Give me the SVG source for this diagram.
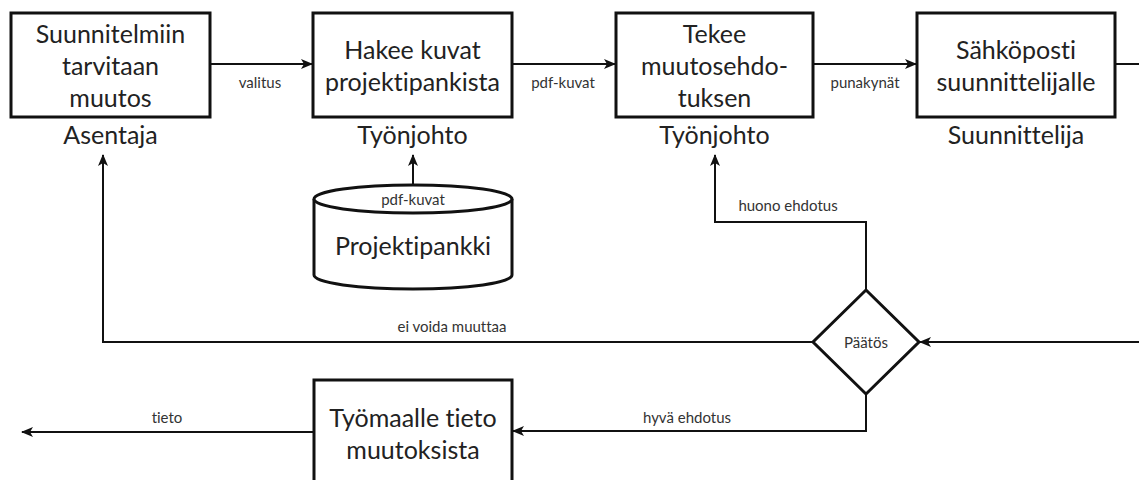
<svg xmlns="http://www.w3.org/2000/svg" width="1139" height="480" viewBox="0 0 1139 480">
  <defs>
    <style>
      .box { fill: #fff; stroke: #111; stroke-width: 3; }
      .shape { fill: #fff; stroke: #111; stroke-width: 3; }
      .line { fill: none; stroke: #111; stroke-width: 2; }
      text { font-family: Lato, "Liberation Sans", sans-serif; font-variant-ligatures: none; text-anchor: middle; dominant-baseline: central; }
      .big { font-size: 25px; fill: #222; }
      .small { font-size: 15px; fill: #333; }
    </style>
    <marker id="arrow" viewBox="0 0 12 10" refX="11" refY="5" markerWidth="12" markerHeight="10" markerUnits="userSpaceOnUse" orient="auto">
      <path d="M0,0 L12,5 L0,10 L3,5 z" fill="#111"/>
    </marker>
  </defs>

  <rect width="1139" height="480" fill="#fff"/>

  <!-- connectors -->
  <g id="connectors">
    <path class="line" d="M210,64 H312" marker-end="url(#arrow)"/>
    <path class="line" d="M512,64 H615" marker-end="url(#arrow)"/>
    <path class="line" d="M813,64 H916" marker-end="url(#arrow)"/>
    <path class="line" d="M1115,64 H1139"/>
    <path class="line" d="M1139,342 H920" marker-end="url(#arrow)"/>
    <path class="line" d="M413,185 V155" marker-end="url(#arrow)"/>
    <path class="line" d="M866,290 V222 H715 V155" marker-end="url(#arrow)"/>
    <path class="line" d="M813,342 H103 V155" marker-end="url(#arrow)"/>
    <path class="line" d="M866,393 V431 H513" marker-end="url(#arrow)"/>
    <path class="line" d="M314,432 H22" marker-end="url(#arrow)"/>
    <text class="small" x="260" y="82">valitus</text>
    <text class="small" x="563" y="82">pdf-kuvat</text>
    <text class="small" x="865" y="82">punakynät</text>
    <text class="small" x="788" y="205">huono ehdotus</text>
    <text class="small" x="452" y="326">ei voida muuttaa</text>
    <text class="small" x="687" y="417">hyvä ehdotus</text>
    <text class="small" x="167" y="417">tieto</text>
  </g>

  <g id="node-muutos">
    <rect class="box" x="11" y="13" width="199" height="104"/>
    <text class="big" x="110.5" y="33">Suunnitelmiin</text>
    <text class="big" x="110.5" y="65">tarvitaan</text>
    <text class="big" x="110.5" y="97">muutos</text>
    <text class="big" x="110.5" y="134">Asentaja</text>
  </g>

  <g id="node-hakee">
    <rect class="box" x="313" y="13" width="199" height="104"/>
    <text class="big" x="412.5" y="49">Hakee kuvat</text>
    <text class="big" x="412.5" y="81">projektipankista</text>
    <text class="big" x="412.5" y="134">Työnjohto</text>
  </g>

  <g id="node-tekee">
    <rect class="box" x="616" y="13" width="197" height="104"/>
    <text class="big" x="714.5" y="33">Tekee</text>
    <text class="big" x="714.5" y="65">muutosehdo-</text>
    <text class="big" x="714.5" y="97">tuksen</text>
    <text class="big" x="714.5" y="134">Työnjohto</text>
  </g>

  <g id="node-sahkoposti">
    <rect class="box" x="917" y="13" width="198" height="104"/>
    <text class="big" x="1016" y="49">Sähköposti</text>
    <text class="big" x="1016" y="81">suunnittelijalle</text>
    <text class="big" x="1016" y="134">Suunnittelija</text>
  </g>

  <g id="node-projektipankki">
    <path class="shape" d="M314,199 V275 A99,14 0 0 0 512,275 V199"/>
    <ellipse class="shape" cx="413" cy="199" rx="99" ry="14"/>
    <text class="small" x="413" y="199">pdf-kuvat</text>
    <text class="big" x="413" y="245">Projektipankki</text>
  </g>

  <g id="node-paatos">
    <polygon class="shape" points="866,290 919,342 866,394 813,342"/>
    <text class="small" x="866" y="342">Päätös</text>
  </g>

  <g id="node-tyomaa">
    <rect class="box" x="314" y="380" width="198" height="106"/>
    <text class="big" x="413" y="417">Työmaalle tieto</text>
    <text class="big" x="413" y="449">muutoksista</text>
  </g>
</svg>
